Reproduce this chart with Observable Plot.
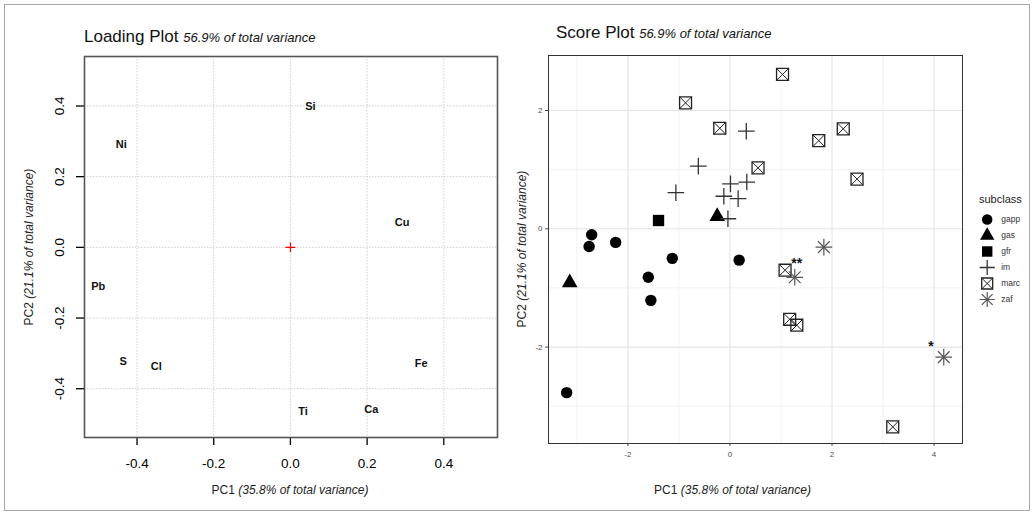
<!DOCTYPE html>
<html><head><meta charset="utf-8">
<script src="https://cdn.jsdelivr.net/npm/d3@7"></script>
<script src="https://cdn.jsdelivr.net/npm/@observablehq/plot@0.6"></script>
<style>
body{margin:0;background:#fff;font-family:"Liberation Sans",Arial,sans-serif;}
#root{position:relative;width:1033px;height:512px;overflow:hidden;background:#fff;}
.t{position:absolute;white-space:nowrap;line-height:1;color:#111;}
</style></head><body><div id="root"></div>
<script>
// ---- Loading plot data ----
const elements = ["Si","Ni","Cu","Pb","S","Cl","Fe","Ti","Ca"];
const loadPC1  = [0.052,-0.441,0.291,-0.501,-0.436,-0.350,0.341,0.033,0.211];
const loadPC2  = [0.400,0.291,0.070,-0.112,-0.322,-0.338,-0.329,-0.465,-0.458];
const loadTicks = [-0.4,-0.2,0.0,0.2,0.4];

// ---- Score plot data ----
const subclasses = ["gapp","gas","gfr","im","marc","zaf"];
const scoreClass = ["gapp","gapp","gapp","gapp","gapp","gapp","gapp","gapp",
  "gas","gas","gfr",
  "im","im","im","im","im","im","im","im",
  "marc","marc","marc","marc","marc","marc","marc","marc","marc","marc","marc",
  "zaf","zaf","zaf"];
const scorePC1 = [-2.71,-2.76,-2.24,-1.13,0.18,-1.60,-1.55,-3.20,
  -0.25,-3.14,-1.40,
  0.32,-0.62,-1.06,0.01,0.33,-0.12,0.16,-0.04,
  1.03,-0.87,-0.20,2.22,1.74,0.55,2.49,1.08,1.17,1.31,3.19,
  1.84,1.27,4.19];
const scorePC2 = [-0.10,-0.30,-0.23,-0.50,-0.53,-0.82,-1.21,-2.77,
  0.21,-0.91,0.14,
  1.65,1.06,0.61,0.76,0.79,0.55,0.51,0.17,
  2.61,2.13,1.70,1.69,1.49,1.03,0.84,-0.70,-1.53,-1.63,-3.35,
  -0.31,-0.82,-2.17];
const noteText = ["**","*"];
const notePC1 = [1.31,3.94];
const notePC2 = [-0.54,-1.94];
const scoreXTicks = [-2,0,2,4];
const scoreXMinor = [-3,-1,1,3];
const scoreYTicks = [-2,0,2];
const scoreYMinor = [-3,-1,1];

const FONT = "'Liberation Sans', Arial, sans-serif";
const root = document.getElementById("root");
function place(node, left, top){ node.style.position="absolute"; node.style.left=left+"px"; node.style.top=top+"px"; root.appendChild(node); }
function txt(html, css){ const d=document.createElement("div"); d.className="t"; d.innerHTML=html; Object.assign(d.style, css); root.appendChild(d); return d; }

// outer border
const border = document.createElement("div");
Object.assign(border.style,{position:"absolute",left:"4px",top:"4px",width:"1024px",height:"505px",border:"1px solid #a8a8a8"});
root.appendChild(border);

// ---- Left: loading plot ----
const loadRows = elements.map((e,i)=>({el:e, pc1:loadPC1[i], pc2:loadPC2[i]}));
const fmt1 = d => d.toFixed(1);
const leftPlot = Plot.plot({
  width: 515, height: 512,
  marginLeft: 84, marginRight: 18, marginTop: 56, marginBottom: 75,
  style: {fontFamily: FONT, fontSize: "13.5px", color: "#000", background: "transparent", overflow: "visible"},
  x: {domain: [-0.537, 0.54], label: null},
  y: {domain: [-0.538, 0.54], label: null},
  marks: [
    Plot.gridX(loadTicks, {stroke: "#cfcfcf", strokeOpacity: 1, strokeDasharray: "1.5,1.5"}),
    Plot.gridY(loadTicks, {stroke: "#cfcfcf", strokeOpacity: 1, strokeDasharray: "1.5,1.5"}),
    Plot.axisX(loadTicks, {tickSize: 8, tickPadding: 13, tickFormat: fmt1, label: null, fontSize: 13.5, strokeWidth: 1.3}),
    Plot.axisY(loadTicks, {tickSize: 8, tickPadding: 13, tickRotate: -90, tickFormat: fmt1, label: null, fontSize: 13.5, strokeWidth: 1.3}),
    Plot.frame({stroke: "#555", strokeWidth: 1.6}),
    Plot.dot([{pc1: 0, pc2: 0}], {x: "pc1", y: "pc2", symbol: "plus", stroke: "red", r: 3.3, strokeWidth: 1.2}),
    Plot.text(loadRows, {x: "pc1", y: "pc2", text: "el", fontSize: 11, fontWeight: "bold", fill: "#111"})
  ]
});
place(leftPlot, 0, 0);

// ---- Right: score plot ----
const scoreRows = scoreClass.map((c,i)=>({cls:c, pc1:scorePC1[i], pc2:scorePC2[i]}));
const noteRows = noteText.map((t,i)=>({t, pc1:notePC1[i], pc2:notePC2[i]}));
const STY = {
  gapp: [{symbol: "circle", fill: "#000", r: 5.7}],
  gas:  [{symbol: "triangle", fill: "#000", r: 5.8}],
  gfr:  [{symbol: "square", fill: "#000", r: 6.4}],
  im:   [{symbol: "plus", stroke: "#333", strokeWidth: 1.3, r: 5.4}],
  marc: [{symbol: "square2", stroke: "#222", strokeWidth: 1.3, r: 7.6},
         {symbol: "times", stroke: "#222", strokeWidth: 1.0, r: 5.6}],
  zaf:  [{symbol: "plus", stroke: "#555", strokeWidth: 1.2, r: 5.4},
         {symbol: "times", stroke: "#555", strokeWidth: 1.2, r: 5.4}]
};
function symbolMarks(rows, chan, k = 1){
  return subclasses.flatMap(s => STY[s].map(st =>
    Plot.dot(rows.filter(d => d.cls === s), {...chan, ...st, r: st.r * k})));
}
const rightPlot = Plot.plot({
  width: 533, height: 512,
  marginLeft: 48, marginRight: 71, marginTop: 55, marginBottom: 69,
  style: {fontFamily: FONT, fontSize: "8px", color: "#4d4d4d", background: "transparent", overflow: "visible"},
  x: {domain: [-3.556, 4.557], label: null},
  y: {domain: [-3.63, 2.93], label: null},
  marks: [
    Plot.gridX(scoreXMinor, {stroke: "#ececec", strokeOpacity: 1, strokeWidth: 0.7}),
    Plot.gridY(scoreYMinor, {stroke: "#ececec", strokeOpacity: 1, strokeWidth: 0.7}),
    Plot.gridX(scoreXTicks, {stroke: "#e4e4e4", strokeOpacity: 1, strokeWidth: 1.1}),
    Plot.gridY(scoreYTicks, {stroke: "#e4e4e4", strokeOpacity: 1, strokeWidth: 1.1}),
    Plot.axisX(scoreXTicks, {tickSize: 3, tickPadding: 5, tickFormat: d => String(d), label: null, fontSize: 8, color: "#4d4d4d"}),
    Plot.axisY(scoreYTicks, {tickSize: 3, tickPadding: 3, tickFormat: d => String(d), label: null, fontSize: 8, color: "#4d4d4d"}),
    Plot.frame({stroke: "#333", strokeWidth: 1}),
    ...symbolMarks(scoreRows, {x: "pc1", y: "pc2"}),
    Plot.text(noteRows, {x: "pc1", y: "pc2", text: "t", fontSize: 14, fontWeight: "bold", fill: "#111", dy: 3})
  ]
});
place(rightPlot, 500, 0);

// ---- Legend ----
const legendRows = subclasses.map(s => ({cls: s}));
const legendPlot = Plot.plot({
  width: 63, height: 118,
  marginLeft: 16.7, marginRight: 0, marginTop: 18, marginBottom: 18,
  style: {fontFamily: FONT, fontSize: "8.5px", color: "#333", background: "transparent", overflow: "visible"},
  y: {type: "point", domain: subclasses, padding: 0, axis: null},
  marks: [
    ...symbolMarks(legendRows, {y: "cls", frameAnchor: "left"}, 0.92),
    Plot.text(legendRows, {y: "cls", text: "cls", frameAnchor: "left", dx: 14, textAnchor: "start", fontSize: 8.5, fill: "#333"})
  ]
});
place(legendPlot, 970, 200);

// ---- titles & axis labels (HTML text) ----
txt('Loading Plot <i style="font-size:13px">56.9% of total variance</i>', {left: "84px", top: "27.5px", fontSize: "17px"});
txt('Score Plot <i style="font-size:13px">56.9% of total variance</i>', {left: "556px", top: "23.5px", fontSize: "17px"});
txt('subclass', {left: "979px", top: "193.5px", fontSize: "11px", color: "#222"});

function centered(html, cx, cy, rot){
  const d = txt(html, {fontSize: "12px", color: "#222"});
  d.style.left = cx + "px"; d.style.top = cy + "px";
  d.style.transform = `translate(-50%,-50%)${rot ? " rotate(-90deg)" : ""}`;
  d.style.transformOrigin = "center center";
  return d;
}
centered('PC1 <i>(35.8% of total variance)</i>', 290, 490, false);
centered('PC2 <i>(21.1% of total variance)</i>', 29, 247, true);
centered('PC1 <i>(35.8% of total variance)</i>', 732.5, 490, false);
centered('PC2 <i>(21.1% of total variance)</i>', 522, 249, true);
</script></body></html>
